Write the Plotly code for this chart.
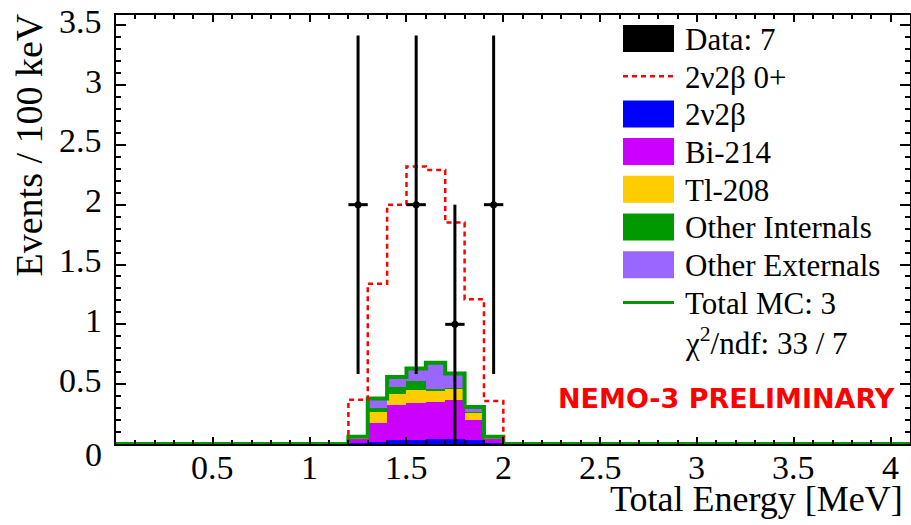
import plotly.graph_objects as go

# ---------------- data ----------------
bin_width = 0.1
x_min, x_max = 0.0, 4.1
bin_lo = [1.2, 1.3, 1.4, 1.5, 1.6, 1.7, 1.8, 1.9]

bb2n   = [0.01, 0.02, 0.03, 0.03, 0.04, 0.04, 0.03, 0.01]      # 2v2b
bi214  = [0.035, 0.155, 0.30, 0.31, 0.31, 0.33, 0.17, 0.04]     # Bi-214
tl208  = [0.01, 0.09, 0.085, 0.11, 0.09, 0.09, 0.06, 0.005]     # Tl-208
oth_int = [0.0, 0.04, 0.065, 0.08, 0.02, 0.01, 0.005, 0.0]      # Other Internals
oth_ext = [0.005, 0.075, 0.08, 0.10, 0.22, 0.12, 0.045, 0.005]  # Other Externals
total_mc = [0.06, 0.38, 0.56, 0.63, 0.68, 0.59, 0.31, 0.06]     # Total MC
bb2n_0p = [0.37, 1.34, 2.00, 2.32, 2.29, 1.85, 1.21, 0.36]      # 2v2b 0+ (dashed)

data_x = [1.25, 1.55, 1.75, 1.95]
data_y = [2, 2, 1, 2]
data_err = [1.414, 1.414, 1.0, 1.414]

x_ticks = [0.5, 1, 1.5, 2, 2.5, 3, 3.5, 4]
x_ticklabels = ["0.5", "1", "1.5", "2", "2.5", "3", "3.5", "4"]
y_ticks = [0, 0.5, 1, 1.5, 2, 2.5, 3, 3.5]
y_ticklabels = ["0", "0.5", "1", "1.5", "2", "2.5", "3", "3.5"]
y_max = 3.585

legend_items = [
    ("box", "#000000", "Data: 7"),
    ("dash", "#ff0000", "2ν2β 0+"),
    ("box", "#0000ff", "2ν2β"),
    ("box", "#cc00ff", "Bi-214"),
    ("box", "#ffcc00", "Tl-208"),
    ("box", "#009900", "Other Internals"),
    ("box", "#9966ff", "Other Externals"),
    ("line", "#009900", "Total MC: 3"),
    ("none", None, "χ<sup>2</sup>/ndf: 33 / 7"),
]

# ---------------- figure ----------------
W, H = 911, 525
ML, MR, MT, MB = 116, 1, 15, 81
PW, PH = W - ML - MR, H - MT - MB

def px(X):
    return (X - ML) / PW

def py(Y):
    return (H - MB - Y) / PH

centers = [b + bin_width / 2 for b in bin_lo]
fig = go.Figure()

stack = [
    (bb2n, "#0000ff"),
    (bi214, "#cc00ff"),
    (tl208, "#ffcc00"),
    (oth_int, "#009900"),
    (oth_ext, "#9966ff"),
]
for vals, col in stack:
    fig.add_trace(go.Bar(x=centers, y=vals, width=bin_width, marker=dict(color=col, line=dict(width=0)),
                         showlegend=False, hoverinfo="skip"))

def step_xy(lo_edges, vals, full_lo=None, full_hi=None):
    xs, ys = [], []
    if full_lo is not None:
        xs += [full_lo]; ys += [0]
    xs += [lo_edges[0]]; ys += [0]
    for lo, v in zip(lo_edges, vals):
        xs += [lo, lo + bin_width]; ys += [v, v]
    xs += [lo_edges[-1] + bin_width]; ys += [0]
    if full_hi is not None:
        xs += [full_hi]; ys += [0]
    return xs, ys

gx, gy = step_xy(bin_lo, total_mc, x_min, x_max)
fig.add_trace(go.Scatter(x=gx, y=gy, mode="lines", line=dict(color="#009900", width=4),
                         showlegend=False, hoverinfo="skip", cliponaxis=False))
rx, ry = step_xy(bin_lo, bb2n_0p)
fig.add_trace(go.Scatter(x=rx, y=ry, mode="lines", line=dict(color="#ff0000", width=2.5, dash="5px,4px"),
                         showlegend=False, hoverinfo="skip"))
fig.add_trace(go.Scatter(x=data_x, y=data_y, mode="markers",
                         marker=dict(color="black", size=7),
                         error_y=dict(type="data", array=data_err, color="black", thickness=3, width=0),
                         error_x=dict(type="constant", value=bin_width / 2, color="black", thickness=3, width=0),
                         showlegend=False, hoverinfo="skip"))

serif = "Liberation Serif"
axis_common = dict(showline=True, linewidth=2, linecolor="black", mirror="allticks", automargin=False,
                   ticks="inside", tickwidth=1.5, tickcolor="black", showgrid=False, zeroline=False,
                   showticklabels=False)
fig.update_xaxes(range=[x_min, x_max], tickvals=x_ticks, ticklen=7,
                 minor=dict(ticks="inside", ticklen=4, dtick=0.1, tick0=0, tickcolor="black", tickwidth=1.5),
                 **axis_common)
fig.update_yaxes(range=[0, y_max], tickvals=y_ticks, ticklen=10,
                 minor=dict(ticks="inside", ticklen=5, dtick=0.1, tick0=0, tickcolor="black", tickwidth=1.5),
                 **axis_common)

shapes = []
annotations = []

# tick labels (placed like ROOT does)
for v, t in zip(x_ticks, x_ticklabels):
    annotations.append(dict(text=t, xref="x", yref="paper", x=v, y=py(467),
                            xanchor="center", yanchor="middle", showarrow=False,
                            font=dict(family=serif, size=34, color="black")))
for v, t in zip(y_ticks, y_ticklabels):
    annotations.append(dict(text=t, xref="paper", yref="y", x=px(104), y=v,
                            yshift=(-10 if v == 0 else 4),
                            xanchor="right", yanchor="middle", showarrow=False,
                            font=dict(family=serif, size=34, color="black")))

row0, pitch = 38.5, 37.7
for i, (kind, col, label) in enumerate(legend_items):
    yc = row0 + i * pitch
    if kind == "box":
        shapes.append(dict(type="rect", xref="paper", yref="paper", x0=px(623), x1=px(674),
                           y0=py(yc + 13.5), y1=py(yc - 13.5), fillcolor=col, line=dict(width=0), layer="above"))
    elif kind == "dash":
        shapes.append(dict(type="line", xref="paper", yref="paper", x0=px(623), x1=px(674),
                           y0=py(yc), y1=py(yc), line=dict(color=col, width=2.5, dash="5px,4px"), layer="above"))
    elif kind == "line":
        shapes.append(dict(type="line", xref="paper", yref="paper", x0=px(623), x1=px(674),
                           y0=py(yc), y1=py(yc), line=dict(color=col, width=3), layer="above"))
    annotations.append(dict(text=label, xref="paper", yref="paper", x=px(683), y=py(yc + 1),
                            xanchor="left", yanchor="middle", showarrow=False,
                            font=dict(family=serif, size=31, color="black")))

annotations.append(dict(text="NEMO-3 PRELIMINARY", xref="paper", yref="paper", x=px(897), y=py(398),
                        xanchor="right", yanchor="middle", showarrow=False,
                        font=dict(family="DejaVu Sans", size=27, color="#ff0000", weight="bold")))
annotations.append(dict(text="Total Energy [MeV]", xref="paper", yref="paper", x=px(905), y=py(499),
                        xanchor="right", yanchor="middle", showarrow=False,
                        font=dict(family=serif, size=36, color="black")))
annotations.append(dict(text="Events / 100 keV", xref="paper", yref="paper", x=px(29), y=py(12),
                        xanchor="center", yanchor="top", textangle=-90, showarrow=False,
                        font=dict(family=serif, size=38, color="black")))

fig.update_layout(width=W, height=H, margin=dict(l=ML, r=MR, t=MT, b=MB),
                  paper_bgcolor="white", plot_bgcolor="white",
                  barmode="stack", bargap=0, showlegend=False,
                  shapes=shapes, annotations=annotations)

fig.write_html("out.html", config={"displayModeBar": False},
               post_script="document.body.style.margin='0px';document.body.style.overflow='hidden';")
